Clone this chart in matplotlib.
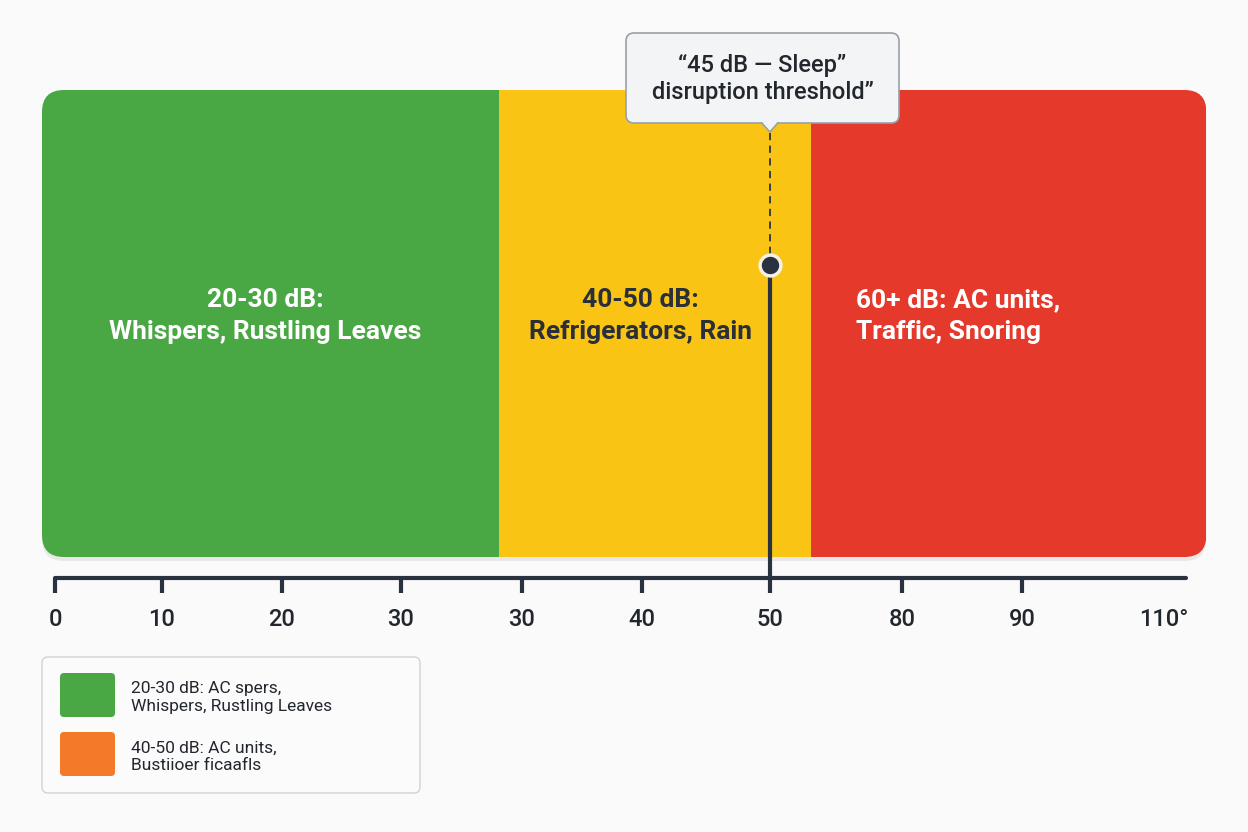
import matplotlib
matplotlib.use("Agg")
import matplotlib.pyplot as plt
from matplotlib.patches import FancyBboxPatch, Rectangle, Polygon

# ---------------- data ----------------
zone_labels = ["20-30 dB:\nWhispers, Rustling Leaves",
               "40-50 dB:\nRefrigerators, Rain",
               "60+ dB: AC units,\nTraffic, Snoring"]
zone_start = [-1.15, 39.3, 66.8]
zone_end = [39.3, 66.8, 101.8]
zone_colors = ["#4aa844", "#f9c414", "#e5392b"]
zone_text_colors = ["white", "#2a2f38", "white"]

tick_positions = [0, 9.46, 20.07, 30.59, 41.29, 51.9, 63.2, 74.9, 85.5]
tick_labels = ["0", "10", "20", "30", "30", "40", "50", "80", "90"]
end_label = "110°"
end_label_pos = 98.0

threshold_pos = 63.2
threshold_label = "“45 dB — Sleep”\ndisruption threshold”"

legend_labels = ["20-30 dB: AC spers,\nWhispers, Rustling Leaves",
                 "40-50 dB: AC units,\nBustiioer ficaafls"]
legend_colors = ["#4aa844", "#f47a2a"]

# ---------------- layout ----------------
W, H = 1248, 832
FONT = "Roboto"
DARK = "#2a3240"
fig = plt.figure(figsize=(12.48, 8.32), dpi=100, facecolor="#fafafa")
ax = fig.add_axes([0, 0, 1, 1])
X0, X1 = -4.863, 105.48
ax.set_xlim(X0, X1)
ax.set_ylim(H, 0)
ax.axis("off")
ax.set_facecolor("#fafafa")
sx = W / (X1 - X0)  # pixels per x unit


def ux(px):
    return X0 + px / sx


band_top, band_bot = 90, 557
rad = 22 / sx

# shadow
shadow = FancyBboxPatch((zone_start[0], band_top + 4), zone_end[-1] - zone_start[0],
                        band_bot - band_top, boxstyle=f"round,pad=0,rounding_size={rad}",
                        mutation_aspect=sx, fc="#d8d8d8", ec="none", alpha=0.5, zorder=1)
ax.add_patch(shadow)
clip = FancyBboxPatch((zone_start[0], band_top), zone_end[-1] - zone_start[0],
                      band_bot - band_top, boxstyle=f"round,pad=0,rounding_size={rad}",
                      mutation_aspect=sx, fc="none", ec="none", zorder=1)
ax.add_patch(clip)
for s, e, c in zip(zone_start, zone_end, zone_colors):
    r = Rectangle((s, band_top), e - s, band_bot - band_top, fc=c, ec="none", zorder=2)
    ax.add_patch(r)
    r.set_clip_path(clip)

# zone texts
text_x = [(zone_start[0] + zone_end[0]) / 2 - 0.5,
          (zone_start[1] + zone_end[1]) / 2 - 1.3,
          zone_start[2] + 4.0]
text_ha = ["center", "center", "left"]
for lab, x, ha, tc in zip(zone_labels, text_x, text_ha, zone_text_colors):
    ax.text(x, 316, lab, ha=ha, va="center", color=tc, fontsize=19,
            fontweight="bold", family=FONT, linespacing=1.38, zorder=4,
            multialignment="center" if ha == "center" else "left")

# axis
ax.plot([tick_positions[0], 100], [578, 578], color=DARK, lw=3,
        solid_capstyle="round", zorder=3)
ax.vlines(tick_positions, 578, 593, color=DARK, lw=3, zorder=3)
for p, l in zip(tick_positions, tick_labels):
    ax.text(p, 619, l, ha="center", va="center", fontsize=17, family=FONT,
            fontweight="medium", color="#22262d", zorder=4)
ax.text(end_label_pos, 619, end_label, ha="center", va="center", fontsize=17,
        family=FONT, fontweight="medium", color="#22262d", zorder=4)

# threshold marker
ax.plot([threshold_pos, threshold_pos], [265, 578], color=DARK, lw=3, zorder=5)
ax.plot([threshold_pos, threshold_pos], [133, 258], color=DARK, lw=1.3,
        ls=(0, (4, 3)), zorder=5)
ax.plot([threshold_pos], [265], "o", ms=15, mfc=DARK, mec="#f4f1e6", mew=2.5, zorder=6)

# callout
cb_x0, cb_x1, cb_y0, cb_y1 = ux(626), ux(899), 33, 123
callout = FancyBboxPatch((cb_x0, cb_y0), cb_x1 - cb_x0, cb_y1 - cb_y0,
                         boxstyle=f"round,pad=0,rounding_size={8 / sx}",
                         mutation_aspect=sx, fc="#f3f4f5", ec="#9aa0a6", lw=1.2, zorder=7)
ax.add_patch(callout)
tw = 8 / sx
tri = Polygon([[threshold_pos - tw, cb_y1 - 1], [threshold_pos + tw, cb_y1 - 1],
               [threshold_pos, cb_y1 + 9]], closed=True, fc="#f3f4f5", ec="none", zorder=8)
ax.add_patch(tri)
ax.plot([threshold_pos - tw, threshold_pos, threshold_pos + tw],
        [cb_y1, cb_y1 + 9, cb_y1], color="#9aa0a6", lw=1.2, zorder=8)
ax.text((cb_x0 + cb_x1) / 2, 79, threshold_label, ha="center", va="center",
        fontsize=17, family=FONT, fontweight="medium", color="#22262d",
        linespacing=1.25, zorder=9)

# legend
lg = FancyBboxPatch((ux(42), 657), (420 - 42) / sx, 793 - 657,
                    boxstyle=f"round,pad=0,rounding_size={6 / sx}", mutation_aspect=sx,
                    fc="#fbfbfb", ec="#cfd2d6", lw=1.0, zorder=3)
ax.add_patch(lg)
for i, (lab, col) in enumerate(zip(legend_labels, legend_colors)):
    y0 = 673 + i * 59
    sw = FancyBboxPatch((ux(60), y0), 55 / sx, 44,
                        boxstyle=f"round,pad=0,rounding_size={4 / sx}", mutation_aspect=sx,
                        fc=col, ec="none", zorder=4)
    ax.add_patch(sw)
    ax.text(ux(131), y0 + 25, lab, ha="left", va="center", fontsize=12.5,
            family=FONT, color="#22262d", linespacing=1.25, zorder=4)

fig.savefig("out.png", dpi=100, facecolor=fig.get_facecolor())
